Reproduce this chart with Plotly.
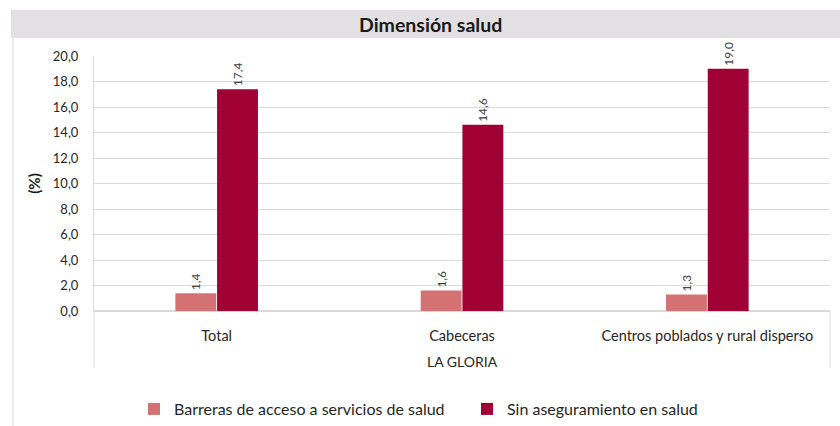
import plotly.graph_objects as go

# Data
group = "LA GLORIA"
categories = ["Total", "Cabeceras", "Centros poblados y rural disperso"]
series_names = ["Barreras de acceso a servicios de salud", "Sin aseguramiento en salud"]
barreras = [1.4, 1.6, 1.3]
sin_aseguramiento = [17.4, 14.6, 19.0]
series_values = [barreras, sin_aseguramiento]
colors = ["#d47273", "#a00034"]

FONT = "Lato, 'Open Sans', sans-serif"

# plot-area geometry in pixels (used to place the frame decorations)
W, H = 840, 426
L, R, T, B = 94, 10, 56, 115
PW, PH = W - L - R, H - T - B


def px_x(x):
    return (x - L) / PW


def px_y(y):
    return (H - B - y) / PH


fig = go.Figure()
for name, vals, col in zip(series_names, series_values, colors):
    fig.add_trace(go.Bar(
        name=name,
        x=categories,
        y=vals,
        marker=dict(color=col, line=dict(width=0)),
        text=[f"{v:.1f}".replace(".", ",") for v in vals],
        textposition="outside",
        textangle=-90,
        cliponaxis=False,
        textfont=dict(family=FONT, size=12, color="#404040"),
    ))

line_col = "#d9d9d9"
fig.update_layout(
    width=W, height=H,
    margin=dict(l=L, r=R, t=T, b=B),
    paper_bgcolor="white",
    plot_bgcolor="white",
    separators=",.",
    barmode="group",
    bargap=0.66,
    bargroupgap=0.02,
    font=dict(family=FONT, size=13, color="#262626"),
    showlegend=True,
    legend=dict(
        orientation="h",
        x=134 / W, xanchor="left", xref="container",
        y=0.0, yanchor="bottom", yref="container",
        font=dict(family=FONT, size=16, color="#262626"),
        itemwidth=30,
        entrywidth=288, entrywidthmode="pixels",
    ),
    shapes=[
        # header band
        dict(type="rect", xref="paper", yref="paper",
             x0=px_x(11), x1=px_x(840), y0=px_y(38), y1=px_y(10),
             fillcolor="#e2e0e2", line=dict(width=0), layer="below"),
        # left frame line
        dict(type="line", xref="paper", yref="paper",
             x0=px_x(13), x1=px_x(13), y0=px_y(426), y1=px_y(38),
             line=dict(color=line_col, width=1)),
        # category axis outer dividers
        dict(type="line", xref="paper", yref="paper",
             x0=0, x1=0, y0=px_y(368), y1=0,
             line=dict(color=line_col, width=1)),
        dict(type="line", xref="paper", yref="paper",
             x0=1, x1=1, y0=px_y(368), y1=0,
             line=dict(color=line_col, width=1)),
    ],
    annotations=[
        dict(text="<b>Dimensión salud</b>", xref="paper", yref="paper",
             x=px_x(430), y=px_y(25),
             xanchor="center", yanchor="middle", showarrow=False,
             font=dict(family=FONT, size=19.5, color="#1a1a1a")),
        dict(text=group, xref="paper", yref="paper",
             x=0.5, y=px_y(361),
             xanchor="center", yanchor="middle", showarrow=False,
             font=dict(family=FONT, size=14, color="#262626")),
    ],
)

fig.update_yaxes(
    range=[0, 20], dtick=2, tickformat=".1f",
    showgrid=True, gridcolor=line_col, gridwidth=1,
    showline=True, linecolor=line_col,
    zeroline=True, zerolinecolor=line_col,
    ticks="", ticklabelstandoff=12,
    tickfont=dict(family=FONT, size=13, color="#262626"),
    title=dict(text="<b>(%)</b>", standoff=8,
               font=dict(family=FONT, size=15, color="#1a1a1a")),
)
fig.update_xaxes(
    type="category",
    showline=True, linecolor=line_col,
    ticks="", ticklabelstandoff=12,
    tickfont=dict(family=FONT, size=14.5, color="#262626"),
)

fig.write_html("out.html")
